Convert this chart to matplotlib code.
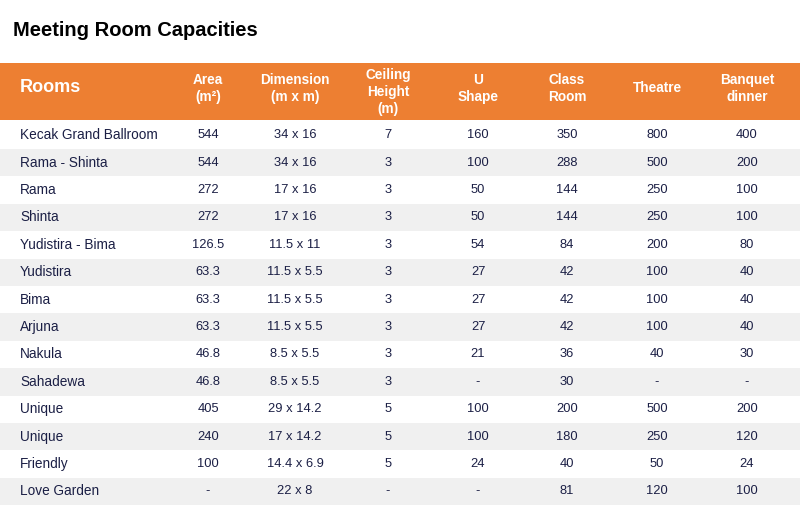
import matplotlib.pyplot as plt
from matplotlib.patches import Rectangle

rooms = ['Kecak Grand Ballroom', 'Rama - Shinta', 'Rama', 'Shinta', 'Yudistira - Bima',
         'Yudistira', 'Bima', 'Arjuna', 'Nakula', 'Sahadewa', 'Unique', 'Unique',
         'Friendly', 'Love Garden']
area = ['544', '544', '272', '272', '126.5', '63.3', '63.3', '63.3', '46.8', '46.8',
        '405', '240', '100', '-']
dimension = ['34 x 16', '34 x 16', '17 x 16', '17 x 16', '11.5 x 11', '11.5 x 5.5',
             '11.5 x 5.5', '11.5 x 5.5', '8.5 x 5.5', '8.5 x 5.5', '29 x 14.2',
             '17 x 14.2', '14.4 x 6.9', '22 x 8']
ceiling = ['7', '3', '3', '3', '3', '3', '3', '3', '3', '3', '5', '5', '5', '-']
u_shape = ['160', '100', '50', '50', '54', '27', '27', '27', '21', '-', '100', '100', '24', '-']
class_room = ['350', '288', '144', '144', '84', '42', '42', '42', '36', '30', '200', '180', '40', '81']
theatre = ['800', '500', '250', '250', '200', '100', '100', '100', '40', '-', '500', '250', '50', '120']
banquet = ['400', '200', '100', '100', '80', '40', '40', '40', '30', '-', '200', '120', '24', '100']

headers = ['Area\n(m²)', 'Dimension\n(m x m)', 'Ceiling\nHeight\n(m)', 'U\nShape',
           'Class\nRoom', 'Theatre', 'Banquet\ndinner']
columns = [area, dimension, ceiling, u_shape, class_room, theatre, banquet]

ORANGE = '#ED7F32'
STRIPE = '#F0F0F0'
NAVY = '#1B1F45'

col_x = [208, 295, 388, 478, 567, 657, 747]
head_top, head_bot = 63, 120
row_h = 27.4

plt.rcParams['font.family'] = ['Liberation Sans', 'DejaVu Sans']

fig = plt.figure(figsize=(8, 5.07), dpi=100)
ax = fig.add_axes([0, 0, 1, 1])
ax.set_xlim(0, 800)
ax.set_ylim(507, 0)
ax.axis('off')

ax.text(13, 31, 'Meeting Room Capacities', fontsize=14.5, fontweight='bold',
        color='black', va='center', ha='left')

ax.add_patch(Rectangle((0, head_top), 800, head_bot - head_top, color=ORANGE, lw=0))
ax.text(20, 88, 'Rooms', fontsize=13, fontweight='bold', color='white', va='center')
for x, h in zip(col_x, headers):
    three = h.count('\n') == 2
    ax.text(x, 92 if three else 88.5, h, fontsize=9.8, fontweight='bold', color='white',
            ha='center', va='center', linespacing=1.25 if three else 1.35)

for i, name in enumerate(rooms):
    top = head_bot + 1.5 + i * row_h
    if i % 2 == 1:
        ax.add_patch(Rectangle((0, top), 800, row_h, color=STRIPE, lw=0))
    yc = top + row_h / 2
    ax.text(20, yc, name, fontsize=9.8, color=NAVY, va='center', ha='left')
    for x, col in zip(col_x, columns):
        ax.text(x, yc, col[i], fontsize=9.3, color=NAVY, va='center', ha='center')

fig.savefig('out.png', dpi=100)
